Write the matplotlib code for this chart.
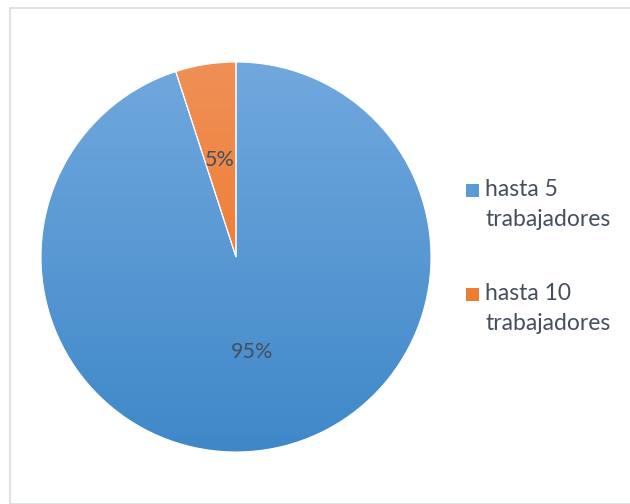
import matplotlib
matplotlib.use("Agg")
import matplotlib.pyplot as plt
import numpy as np
from matplotlib.patches import Rectangle
from matplotlib.colors import LinearSegmentedColormap

categories = ["hasta 5\ntrabajadores", "hasta 10\ntrabajadores"]
values = [95, 5]
labels = ["95%", "5%"]

top_colors = ["#71A8DE", "#F09056"]
bot_colors = ["#3F88C8", "#EE6E1E"]
mid_colors = ["#5B9BD5", "#ED7D31"]
text_color = "#454F5E"

plt.rcParams['font.family'] = ['Lato', 'DejaVu Sans']

W, H = 630, 504
fig = plt.figure(figsize=(W / 100, H / 100), dpi=100)

# light border
fig.patches.append(Rectangle((10 / W, 0), 1.2, 1 - 7.5 / H, transform=fig.transFigure,
                             fill=False, edgecolor="#D9DEE3", linewidth=1.2))

cx, cy, r = 236, 257, 195
ax = fig.add_axes([(cx - r) / W, 1 - (cy + r) / H, 2 * r / W, 2 * r / H])
wedges, _ = ax.pie(values, startangle=90, counterclock=False, colors=mid_colors,
                   radius=1.0, wedgeprops=dict(linewidth=0.8, edgecolor="white"))
ax.set_xlim(-1, 1)
ax.set_ylim(-1, 1)
ax.set_aspect("equal")
ax.axis("off")

grad = np.linspace(1, 0, 256).reshape(-1, 1)
for w, c0, c1 in zip(wedges, top_colors, bot_colors):
    cmap = LinearSegmentedColormap.from_list("g", [c1, c0])
    im = ax.imshow(grad, cmap=cmap, extent=(-1, 1, -1, 1), aspect="auto",
                   origin="upper", zorder=w.get_zorder() + 0.1, vmin=0, vmax=1)
    im.set_clip_path(w)

for w in wedges:
    w.set_facecolor("none")
    w.set_zorder(5)

# percentage labels
label_pos = [(252, 352), (220, 160)]
for lab, (px, py) in zip(labels, label_pos):
    ax.text((px - cx) / r, (cy - py) / r, lab, ha="center", va="center",
            fontsize=15.5, color=text_color, zorder=10)

# legend drawn manually (handle aligned with first line)
leg_y = [190, 294]
for cat, col, y in zip(categories, mid_colors, leg_y):
    fig.patches.append(Rectangle((466 / W, 1 - (y + 7) / H), 13 / W, 13 / H,
                                 transform=fig.transFigure, facecolor=col, edgecolor="none"))
    for i, line in enumerate(cat.split("\n")):
        fig.text(485 / W, 1 - (y + 30 * i) / H, line, ha="left", va="center",
                 fontsize=16.5, color=text_color)

fig.savefig("out.png", dpi=100, facecolor="white")
